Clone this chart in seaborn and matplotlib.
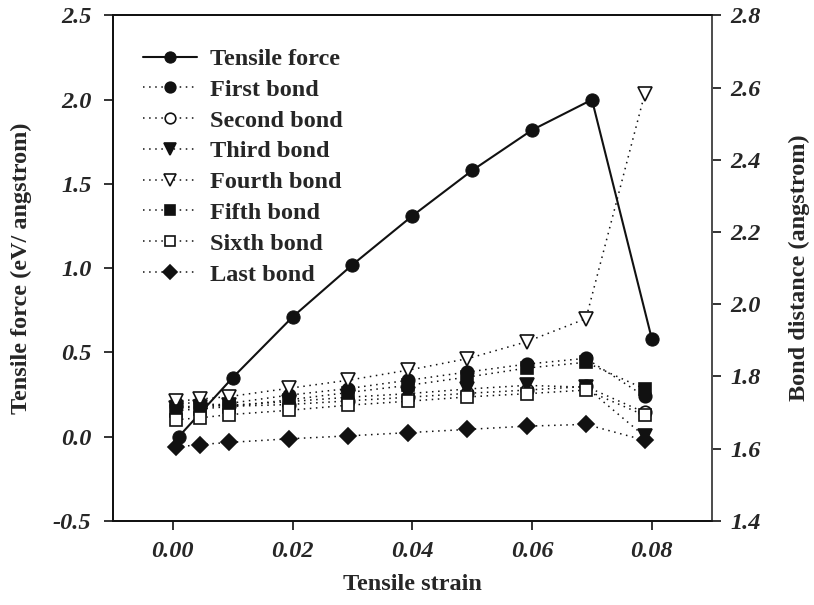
import numpy as np
import pandas as pd
import seaborn as sns
import matplotlib
matplotlib.use("Agg")
import matplotlib.pyplot as plt
from matplotlib.ticker import FormatStrFormatter

# Tensile force vs strain
strain_force = [0.001, 0.01, 0.02, 0.03, 0.04, 0.05, 0.06, 0.07, 0.08]
tensile_force = [0.0, 0.35, 0.71, 1.02, 1.31, 1.58, 1.82, 2.00, 0.58]

# Bond distances (angstrom) vs strain
strain_bond = [0.0005, 0.0045, 0.0094, 0.0194, 0.0292, 0.0392, 0.0492, 0.0591, 0.069, 0.0788]
first_bond = [1.717, 1.716, 1.725, 1.748, 1.766, 1.789, 1.812, 1.834, 1.850, 1.745]
second_bond = [1.725, 1.727, 1.717, 1.722, 1.732, 1.742, 1.753, 1.762, 1.772, 1.700]
third_bond = [1.712, 1.715, 1.720, 1.730, 1.742, 1.752, 1.765, 1.775, 1.770, 1.634]
fourth_bond = [1.731, 1.737, 1.744, 1.767, 1.789, 1.817, 1.849, 1.896, 1.960, 2.582]
fifth_bond = [1.705, 1.710, 1.716, 1.735, 1.755, 1.775, 1.798, 1.823, 1.839, 1.765]
sixth_bond = [1.680, 1.685, 1.694, 1.706, 1.720, 1.731, 1.743, 1.752, 1.762, 1.692]
last_bond = [1.604, 1.611, 1.617, 1.627, 1.635, 1.644, 1.653, 1.662, 1.667, 1.623]

bond_labels = ["First bond", "Second bond", "Third bond", "Fourth bond",
               "Fifth bond", "Sixth bond", "Last bond"]
bond_series = [first_bond, second_bond, third_bond, fourth_bond,
               fifth_bond, sixth_bond, last_bond]

sns.set_style("ticks")
plt.rcParams["font.family"] = ["Liberation Serif", "DejaVu Serif"]
plt.rcParams["xtick.direction"] = "out"
plt.rcParams["ytick.direction"] = "out"

ink = "#111111"
FS = 17.5

fig = plt.figure(figsize=(8.14, 6.05), dpi=100)
ax = fig.add_axes([0.1388, 0.1393, 0.7355, 0.8351])
ax2 = ax.twinx()

force_df = pd.DataFrame({"strain": strain_force, "force": tensile_force})
sns.lineplot(data=force_df, x="strain", y="force", ax=ax, color=ink,
             linewidth=1.5, marker="o", markersize=9.5, markeredgecolor=ink,
             markerfacecolor=ink, label="Tensile force", legend=False,
             estimator=None, sort=False)

# marker shape, fill and size for each bond series
styles = [
    ("o", ink, 9.0),
    ("o", "white", 9.0),
    ("v", ink, 9.5),
    ("v", "white", 9.5),
    ("s", ink, 8.3),
    ("s", "white", 8.3),
    ("D", ink, 8.0),
]

for label, values, (mk, face, ms) in zip(bond_labels, bond_series, styles):
    df = pd.DataFrame({"strain": strain_bond, "dist": values})
    sns.lineplot(data=df, x="strain", y="dist", ax=ax2, color=ink,
                 linewidth=1.1, linestyle=(0, (1, 3)), marker=mk,
                 markersize=ms, markerfacecolor=face, markeredgecolor=ink,
                 markeredgewidth=1.2, label=label, legend=False,
                 estimator=None, sort=False, zorder=3)

ax.set_xlim(-0.01, 0.09)
ax.set_ylim(-0.5, 2.5)
ax2.set_ylim(1.4, 2.8)
ax.set_xticks([0.0, 0.02, 0.04, 0.06, 0.08])
ax.set_yticks(np.arange(-0.5, 2.51, 0.5))
ax2.set_yticks(np.arange(1.4, 2.81, 0.2))
ax.xaxis.set_major_formatter(FormatStrFormatter("%.2f"))
ax.yaxis.set_major_formatter(FormatStrFormatter("%.1f"))
ax2.yaxis.set_major_formatter(FormatStrFormatter("%.1f"))

for a in (ax, ax2):
    for lab in a.get_xticklabels() + a.get_yticklabels():
        lab.set_fontsize(FS)
        lab.set_fontweight("bold")
        lab.set_fontstyle("italic")
    a.tick_params(length=6.5, width=1.2, color=ink)
    for sp in a.spines.values():
        sp.set_visible(True)
        sp.set_color(ink)
        sp.set_linewidth(1.3)
ax.tick_params(axis="y", pad=9)
ax.tick_params(axis="x", pad=8, top=False)
ax2.tick_params(axis="y", pad=7)
ax2.spines["right"].set_color("#555555")

label_font = dict(fontsize=FS, fontweight="bold")
ax.set_xlabel("Tensile strain", labelpad=9, **label_font)
ax.set_ylabel("Tensile force (eV/ angstrom)", labelpad=15, **label_font)
ax2.set_ylabel("Bond distance (angstrom)", labelpad=20, **label_font)

h1, l1 = ax.get_legend_handles_labels()
h2, l2 = ax2.get_legend_handles_labels()
leg = ax2.legend(h1 + h2, l1 + l2, loc="upper left",
                 bbox_to_anchor=(0.022, 0.969), frameon=False,
                 prop=dict(family="Liberation Serif", weight="bold", size=FS),
                 handlelength=2.2, handletextpad=0.55, labelspacing=0.36,
                 markerscale=0.85, borderaxespad=0.3)

fig.savefig("out.png", dpi=100)
